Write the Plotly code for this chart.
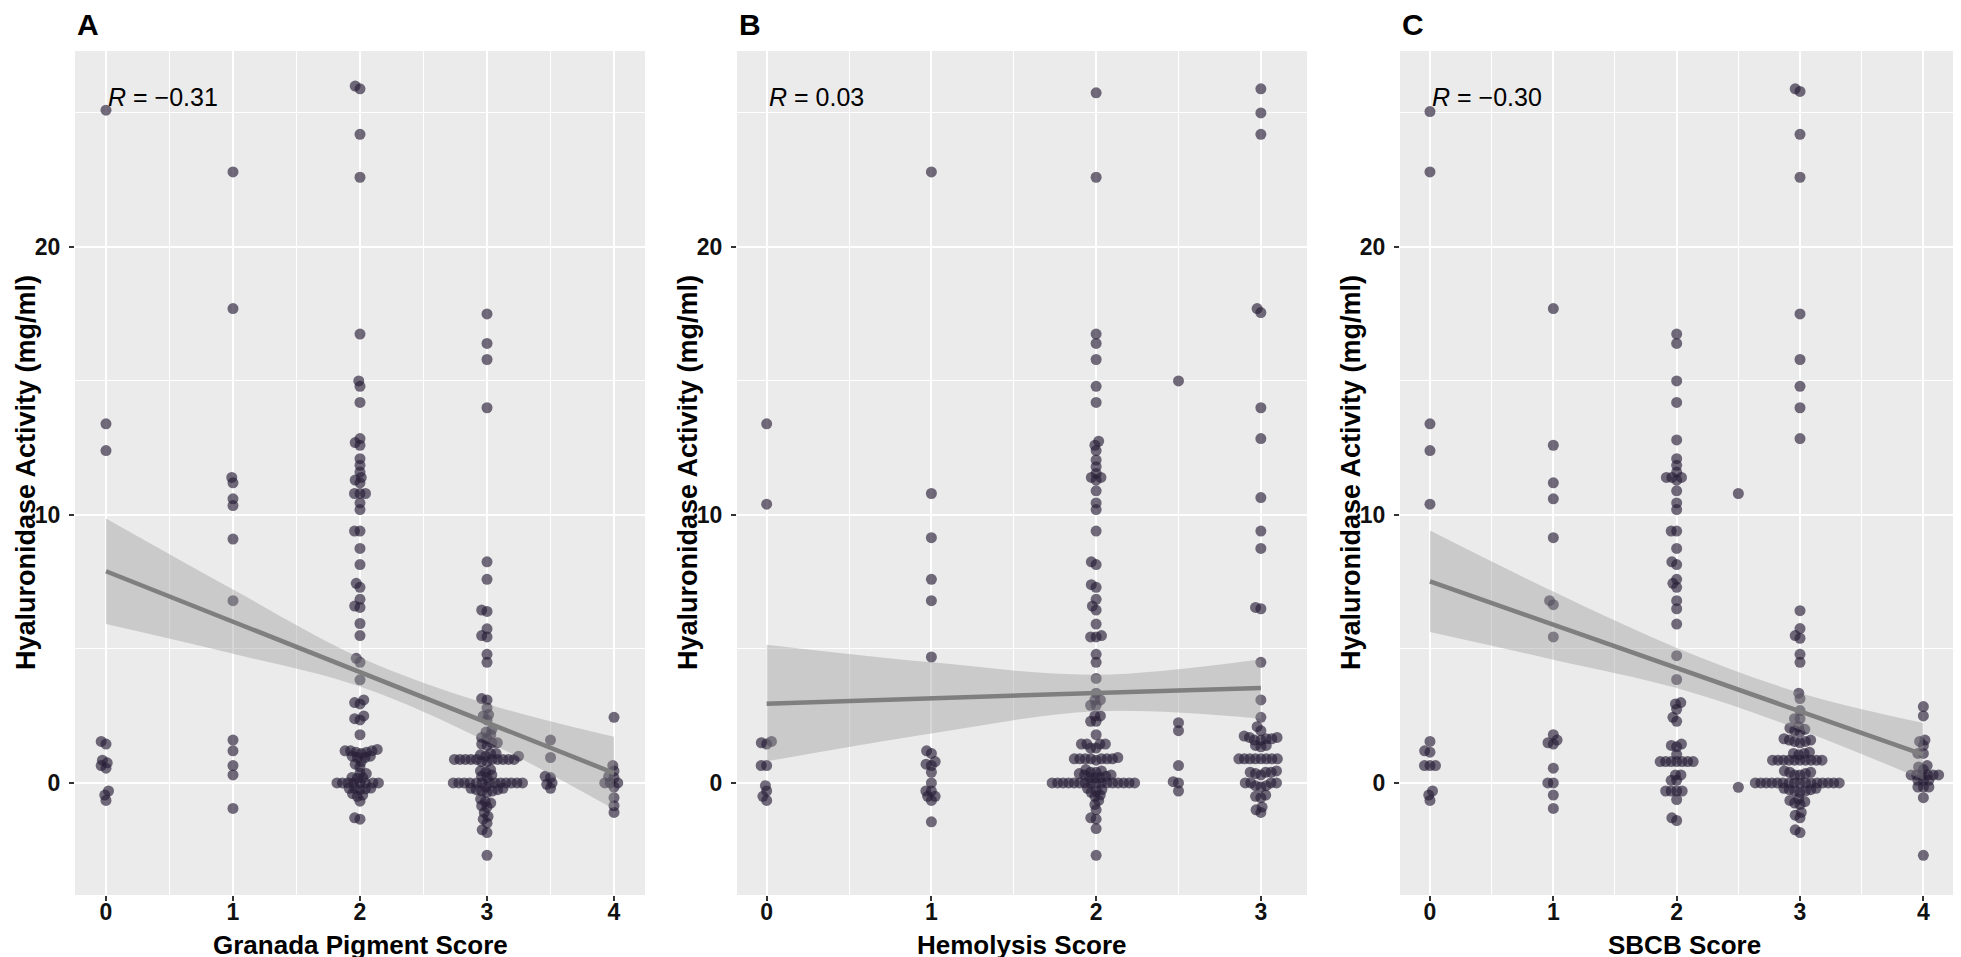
import math
import plotly.graph_objects as go

# ---- data: hyaluronidase activity (mg/ml) per score group ----
# A: Granada pigment score
granada_0 = [25.1, 13.4, 12.4, 1.55, 1.45, 0.85, 0.75, 0.65, 0.55, -0.3, -0.45, -0.65]
granada_1 = [22.8, 17.7, 11.4, 11.2, 10.6, 10.35, 9.1, 6.8, 1.6, 1.2, 0.65, 0.3, -0.95]
granada_2 = [26.0, 25.9, 24.2, 22.6, 16.75, 15.0, 14.8, 14.2, 12.85, 12.7, 12.6, 12.1, 11.85,
             11.6, 11.4, 11.3, 11.2, 10.8, 10.8, 10.8, 10.45, 10.2, 9.4, 9.4, 8.75, 8.15, 7.45,
             7.3, 6.85, 6.6, 6.55, 5.95, 5.5, 4.65, 4.5, 3.85, 3.1, 3.0, 2.95, 2.5, 2.4, 2.35,
             1.8, 1.25, 1.2, 1.2, 1.2, 1.15, 1.15, 1.1, 1.0, 1.0, 0.95, 0.95, 0.8, 0.7, 0.6,
             0.37, 0.35, 0.2, 0.19, 0.18, 0, 0, 0, 0, 0, 0, 0, 0, -0.19, -0.2, -0.2, -0.22,
             -0.25, -0.4, -0.45, -0.5, -0.68, -1.3, -1.35]
granada_3 = [17.5, 16.4, 15.8, 14.0, 8.25, 7.6, 6.45, 6.4, 5.75, 5.5, 5.45, 4.8, 4.5, 3.15,
             3.1, 2.8, 2.55, 2.5, 2.35, 2.0, 1.9, 1.8, 1.7, 1.65, 1.5, 1.5, 1.45, 1.4, 1.1,
             1.1, 1.05, 1.0, 1.0, 0.88, 0.88, 0.88, 0.88, 0.88, 0.88, 0.88, 0.88, 0.88, 0.88,
             0.8, 0.8, 0.5, 0.45, 0.4, 0.3, 0.25, 0.2, 0, 0, 0, 0, 0, 0, 0, 0, 0, 0, 0, 0, 0,
             -0.15, -0.2, -0.2, -0.25, -0.25, -0.3, -0.3, -0.35, -0.6, -0.7, -0.75, -0.85,
             -0.9, -1.1, -1.25, -1.35, -1.5, -1.75, -1.85, -2.7]
granada_35 = [1.6, 0.95, 0.25, 0.2, 0.0, -0.05, -0.2]
granada_4 = [2.45, 0.65, 0.45, 0.25, 0.2, 0.0, 0.0, 0.0, -0.15, -0.55, -0.85, -1.1]

# B: Hemolysis score
hemolysis_0 = [13.4, 10.4, 1.55, 1.5, 1.45, 0.65, 0.65, -0.1, -0.3, -0.5, -0.65]
hemolysis_1 = [22.8, 10.8, 9.15, 7.6, 6.8, 4.7, 1.2, 1.1, 0.8, 0.7, 0.65, 0.4, 0.0, -0.3,
               -0.3, -0.5, -0.5, -0.65, -1.45]
hemolysis_2 = [25.75, 22.6, 16.75, 16.4, 15.8, 14.8, 14.2, 12.75, 12.6, 12.4, 12.05, 11.8,
               11.55, 11.4, 11.4, 11.3, 10.9, 10.45, 10.2, 9.4, 8.25, 8.15, 7.4, 7.3, 6.85,
               6.6, 6.45, 5.93, 5.5, 5.45, 5.45, 4.8, 4.5, 3.9, 3.35, 3.1, 3.1, 2.9, 2.9, 2.5,
               2.5, 2.3, 2.3, 1.8, 1.45, 1.45, 1.45, 1.45, 1.3, 1.3, 0.95, 0.9, 0.9, 0.9, 0.9,
               0.9, 0.9, 0.9, 0.85, 0.5, 0.45, 0.4, 0.4, 0.35, 0.3, 0.3, 0.25, 0.2, 0.2, 0.2,
               0, 0, 0, 0, 0, 0, 0, 0, 0, 0, 0, 0, 0, 0, 0, 0, -0.2, -0.25, -0.3, -0.35,
               -0.45, -0.5, -0.65, -0.8, -1.0, -1.3, -1.35, -1.7, -2.7]
hemolysis_25 = [15.0, 2.25, 1.95, 0.65, 0.05, 0.0, -0.3]
hemolysis_3 = [25.9, 25.0, 24.2, 17.7, 17.55, 14.0, 12.85, 10.65, 9.4, 8.75, 6.55, 6.5, 4.5,
               3.1, 2.45, 2.1, 1.95, 1.75, 1.7, 1.7, 1.65, 1.65, 1.6, 1.6, 1.4, 1.4, 1.35,
               0.9, 0.9, 0.9, 0.9, 0.9, 0.9, 0.9, 0.9, 0.45, 0.4, 0.4, 0.4, 0.35, 0.3, 0, 0,
               0, 0, -0.1, -0.1, -0.15, -0.45, -0.5, -0.55, -0.9, -1.0, -1.1]

# C: SBCB score
sbcb_0 = [25.05, 22.8, 13.4, 12.4, 10.4, 1.55, 1.2, 1.15, 0.65, 0.65, 0.65, -0.3, -0.45, -0.65]
sbcb_1 = [17.7, 12.6, 11.2, 10.6, 9.15, 6.8, 6.65, 5.45, 1.8, 1.6, 1.5, 1.45, 0.55, 0.0, 0.0,
          -0.45, -0.95]
sbcb_2 = [16.75, 16.4, 15.0, 14.2, 12.8, 12.1, 11.85, 11.6, 11.4, 11.4, 11.4, 11.3, 10.9,
          10.45, 10.2, 9.4, 9.4, 8.75, 8.25, 8.15, 7.6, 7.45, 7.3, 6.8, 6.5, 5.93, 4.75, 3.86,
          3.0, 2.95, 2.75, 2.45, 2.3, 1.45, 1.4, 1.35, 1.07, 0.8, 0.8, 0.8, 0.8, 0.8, 0.8,
          0.8, 0.3, 0.3, 0.1, 0.1, -0.3, -0.3, -0.3, -0.3, -0.62, -1.3, -1.4]
sbcb_25 = [10.8, -0.16]
sbcb_3 = [25.9, 25.8, 24.2, 22.6, 17.5, 15.8, 14.8, 14.0, 12.85, 6.43, 5.76, 5.5, 5.4, 4.8,
          4.5, 3.35, 3.15, 2.7, 2.4, 2.4, 2.1, 2.05, 2.0, 1.95, 1.9, 1.65, 1.6, 1.6, 1.55,
          1.55, 1.5, 1.15, 1.1, 1.1, 1.05, 0.85, 0.85, 0.85, 0.85, 0.85, 0.85, 0.85, 0.85,
          0.85, 0.85, 0.45, 0.4, 0.4, 0.35, 0.3, 0.3, 0, 0, 0, 0, 0, 0, 0, 0, 0, 0, 0, 0,
          0, 0, 0, 0, -0.2, -0.2, -0.25, -0.25, -0.3, -0.3, -0.35, -0.6, -0.65, -0.7, -0.75,
          -0.8, -1.1, -1.2, -1.3, -1.75, -1.85]
sbcb_4 = [2.85, 2.5, 1.6, 1.55, 1.4, 1.1, 1.1, 0.65, 0.6, 0.5, 0.3, 0.3, 0.3, 0.3, 0.3, 0.3,
          0.1, 0.1, 0.1, -0.15, -0.15, -0.15, -0.55, -2.7]

# linear fits (line and 95% band read at the score values)
granada_fit_x = [0, 1, 2, 3, 4]
granada_fit = [7.9, 6.02, 4.14, 2.25, 0.37]
granada_lo = [5.93, 4.82, 3.6, 1.55, -0.98]
granada_hi = [9.87, 7.22, 4.68, 2.95, 1.72]

hemolysis_fit_x = [0, 1, 2, 3]
hemolysis_fit = [2.96, 3.17, 3.36, 3.54]
hemolysis_lo = [0.81, 1.85, 2.68, 2.4]
hemolysis_hi = [5.16, 4.5, 4.04, 4.62]

sbcb_fit_x = [0, 1, 2, 3, 4]
sbcb_fit = [7.52, 5.9, 4.29, 2.67, 1.06]
sbcb_lo = [5.63, 4.6, 3.54, 1.99, 0.12]
sbcb_hi = [9.42, 7.14, 5.04, 3.36, 2.24]

r_labels = ["\u2212" + "0.31", "0.03", "\u2212" + "0.30"]
panel_letters = ["A", "B", "C"]
x_titles = ["Granada Pigment Score", "Hemolysis Score", "SBCB Score"]
y_title = "Hyaluronidase Activity (mg/ml)"

panels = [
    {0: granada_0, 1: granada_1, 2: granada_2, 3: granada_3, 3.5: granada_35, 4: granada_4},
    {0: hemolysis_0, 1: hemolysis_1, 2: hemolysis_2, 2.5: hemolysis_25, 3: hemolysis_3},
    {0: sbcb_0, 1: sbcb_1, 2: sbcb_2, 2.5: sbcb_25, 3: sbcb_3, 4: sbcb_4},
]
fits = [
    (granada_fit_x, granada_fit, granada_lo, granada_hi),
    (hemolysis_fit_x, hemolysis_fit, hemolysis_lo, hemolysis_hi),
    (sbcb_fit_x, sbcb_fit, sbcb_lo, sbcb_hi),
]

# ---- layout geometry ----
W, H = 1961, 957
x_dom_px = [(67, 637), (729, 1299), (1392, 1961)]
y_dom_px = (43, 887)
x_ranges = [[-0.244, 4.244], [-0.18, 3.28], [-0.243, 4.37]]
x_ticks = [[0, 1, 2, 3, 4], [0, 1, 2, 3], [0, 1, 2, 3, 4]]
y_range = [-4.18, 27.31]

y_px_per_unit = (y_dom_px[1] - y_dom_px[0]) / (y_range[1] - y_range[0])
SPACING = 5.5  # swarm spacing in px


def swarm_offsets(ypx, d):
    order = sorted(range(len(ypx)), key=lambda i: ypx[i])
    placed = []
    out = [0.0] * len(ypx)
    for i in order:
        y = ypx[i]
        cands = [0.0]
        for px, py in placed:
            dy = y - py
            if abs(dy) < d:
                dx = math.sqrt(d * d - dy * dy)
                cands += [px + dx, px - dx]
        cands.sort(key=lambda c: (abs(c), c))
        best = 0.0
        for c in cands:
            if all((c - px) ** 2 + (y - py) ** 2 >= d * d - 1e-6 for px, py in placed):
                best = c
                break
        placed.append((best, y))
        out[i] = best
    return out


TICK_FONT = dict(family="Liberation Sans, Arial", size=23, color="#111111", weight="bold")
TITLE_FONT = dict(family="Liberation Sans, Arial", size=26, color="#000000")
POINT_COLOR = "rgba(40,30,55,0.65)"

fig = go.Figure()
annotations = []

for k in range(3):
    sfx = "" if k == 0 else str(k + 1)
    xa, ya = "x" + sfx, "y" + sfx
    x_px_per_unit = (x_dom_px[k][1] - x_dom_px[k][0]) / (x_ranges[k][1] - x_ranges[k][0])

    xs, ys = [], []
    for cat, vals in panels[k].items():
        offs = swarm_offsets([v * y_px_per_unit for v in vals], SPACING)
        xs += [cat + o / x_px_per_unit for o in offs]
        ys += vals
    fig.add_trace(go.Scatter(x=xs, y=ys, mode="markers", xaxis=xa, yaxis=ya,
                             marker=dict(size=11, color=POINT_COLOR, line=dict(width=0)),
                             showlegend=False, hoverinfo="skip"))

    fx, fl, lo, hi = fits[k]
    fig.add_trace(go.Scatter(x=fx, y=lo, mode="lines", xaxis=xa, yaxis=ya,
                             line=dict(width=0, shape="spline"), showlegend=False,
                             hoverinfo="skip"))
    fig.add_trace(go.Scatter(x=fx, y=hi, mode="lines", xaxis=xa, yaxis=ya, fill="tonexty",
                             fillcolor="rgba(153,153,153,0.4)",
                             line=dict(width=0, shape="spline"), showlegend=False,
                             hoverinfo="skip"))
    fig.add_trace(go.Scatter(x=fx, y=fl, mode="lines", xaxis=xa, yaxis=ya,
                             line=dict(width=4.5, color="#7f7f7f"), showlegend=False,
                             hoverinfo="skip"))

    minor_x = [t + 0.5 for t in x_ticks[k][:-1]]
    fig.update_layout(**{
        "xaxis" + sfx: dict(
            domain=[x_dom_px[k][0] / W, x_dom_px[k][1] / W], range=x_ranges[k],
            anchor=ya, tickvals=x_ticks[k], ticktext=[str(t) for t in x_ticks[k]],
            ticks="outside", ticklen=5, tickwidth=2, tickcolor="#333333",
            tickfont=TICK_FONT, ticklabelstandoff=-9,
            showgrid=True, gridcolor="white", gridwidth=2.2,
            minor=dict(tickvals=minor_x, showgrid=True, gridcolor="white", gridwidth=1.1),
            zeroline=False, showline=False),
        "yaxis" + sfx: dict(
            domain=[1 - y_dom_px[1] / H, 1 - y_dom_px[0] / H], range=y_range,
            anchor=xa, tickvals=[0, 10, 20], ticktext=["0", "10", "20"],
            ticks="outside", ticklen=5, tickwidth=2, tickcolor="#333333",
            tickfont=TICK_FONT, ticklabelstandoff=4,
            showgrid=True, gridcolor="white", gridwidth=2.2,
            minor=dict(tickvals=[5, 15, 25], showgrid=True, gridcolor="white", gridwidth=1.1),
            zeroline=False, showline=False),
    })

    # R label
    annotations.append(dict(x=0, y=25.6, xref=xa, yref=ya, xanchor="left", yanchor="middle",
                            text="<i>R</i> = " + r_labels[k], showarrow=False,
                            font=dict(family="Liberation Sans, Arial", size=25, color="#000000")))
    # panel letter
    annotations.append(dict(x=x_dom_px[k][0] / W, y=1 - 16 / H, xref="paper", yref="paper",
                            xanchor="left", yanchor="middle", text="<b>" + panel_letters[k] + "</b>",
                            showarrow=False,
                            font=dict(family="Liberation Sans, Arial", size=30, color="#000000")))
    # axis titles
    annotations.append(dict(x=(x_dom_px[k][0] + x_dom_px[k][1]) / 2 / W, y=1 - 937 / H,
                            xref="paper", yref="paper", xanchor="center", yanchor="middle",
                            text="<b>" + x_titles[k] + "</b>", showarrow=False, font=TITLE_FONT))
    annotations.append(dict(x=(x_dom_px[k][0] - 49) / W, y=1 - (y_dom_px[0] + y_dom_px[1]) / 2 / H,
                            xref="paper", yref="paper", xanchor="center", yanchor="middle",
                            textangle=-90, text="<b>" + y_title + "</b>", showarrow=False,
                            font=dict(family="Liberation Sans, Arial", size=27, color="#000000")))

fig.update_layout(width=W, height=H, margin=dict(l=0, r=0, t=0, b=0),
                  paper_bgcolor="white", plot_bgcolor="#EBEBEB",
                  annotations=annotations, showlegend=False)

fig.write_html("out.html")
